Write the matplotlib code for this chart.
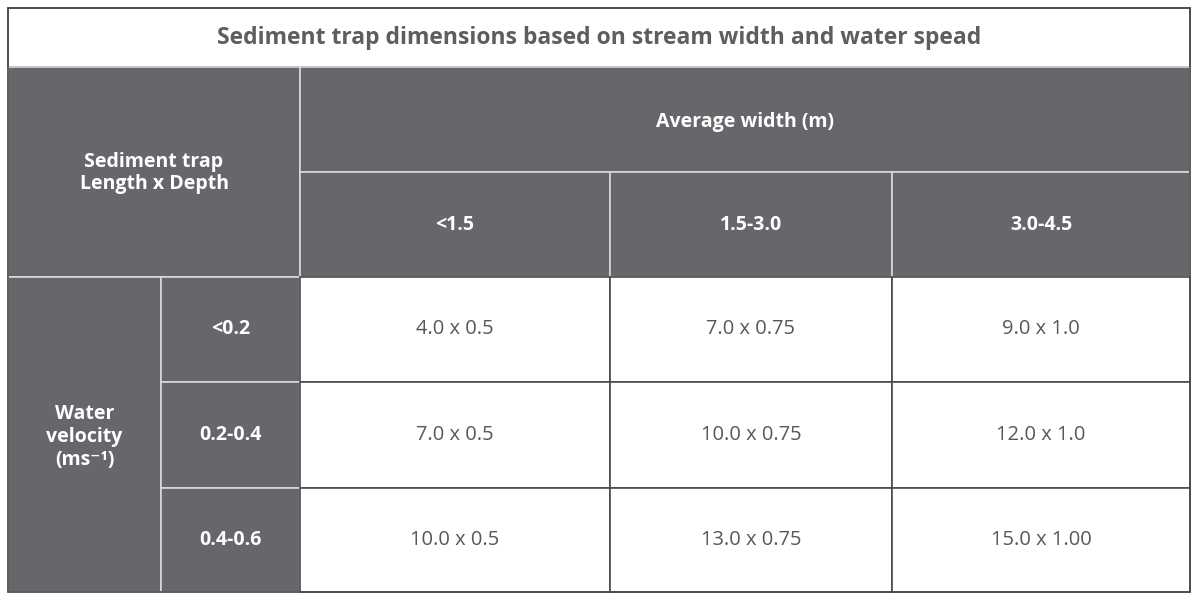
import matplotlib
matplotlib.use("Agg")
import matplotlib.pyplot as plt
from matplotlib.patches import Rectangle

title = "Sediment trap dimensions based on stream width and water spead"
corner_label = "Sediment trap\nLength x Depth"
col_group = "Average width (m)"
width_cats = ["<1.5", "1.5-3.0", "3.0-4.5"]
row_group = "Water\nvelocity\n(ms⁻¹)"
velocity_cats = ["<0.2", "0.2-0.4", "0.4-0.6"]
row1 = ["4.0 x 0.5", "7.0 x 0.75", "9.0 x 1.0"]
row2 = ["7.0 x 0.5", "10.0 x 0.75", "12.0 x 1.0"]
row3 = ["10.0 x 0.5", "13.0 x 0.75", "15.0 x 1.00"]
values = [row1, row2, row3]

W, H = 1200, 601
fig = plt.figure(figsize=(W/100, H/100), dpi=100)
ax = fig.add_axes([0, 0, 1, 1])
ax.set_xlim(0, W); ax.set_ylim(H, 0); ax.axis("off")

FONT = ["Open Sans", "DejaVu Sans"]
DARK = "#67666b"
EDGE_D = "#d9d9d9"
EDGE_L = "#4a4a4e"
TXT = "#58585c"

def cell(x0, y0, x1, y1, fc, ec, lw=1.2):
    ax.add_patch(Rectangle((x0, y0), x1-x0, y1-y0, facecolor=fc, edgecolor=ec, lw=lw))

def txt(x, y, s, color, bold, size=15):
    ax.text(x, y, s, ha="center", va="center", color=color, family=FONT,
            fontweight="bold" if bold else "normal", fontsize=size, linespacing=1.2)

L, R = 8, 1190
cols = [300, 610, 892, 1190]
rows = [277, 382, 488, 592]

cell(L, 8, R, 67, "white", EDGE_L)
txt((L+R)/2, 38, title, "#5e5e62", True, 16.5)
cell(L, 67, 300, 277, DARK, EDGE_D)
txt((L+300)/2, 173, corner_label, "white", True, 14)
cell(300, 67, R, 172, DARK, EDGE_D)
txt((300+R)/2, 122, col_group, "white", True, 14)
for i, c in enumerate(width_cats):
    cell(cols[i], 172, cols[i+1], 277, DARK, EDGE_D)
    txt((cols[i]+cols[i+1])/2, 225, c, "white", True, 14)
cell(L, 277, 161, 592, DARK, EDGE_D)
txt((L+161)/2, 437, row_group, "white", True, 14)
for j, v in enumerate(velocity_cats):
    cell(161, rows[j], 300, rows[j+1], DARK, EDGE_D)
    txt((161+300)/2, (rows[j]+rows[j+1])/2, v, "white", True, 14)
    for i, val in enumerate(values[j]):
        cell(cols[i], rows[j], cols[i+1], rows[j+1], "white", EDGE_L)
        txt((cols[i]+cols[i+1])/2, (rows[j]+rows[j+1])/2, val, TXT, False, 14.5)
ax.add_patch(Rectangle((L, 8), R-L, 592-8, fill=False, edgecolor=EDGE_L, lw=1.2))
fig.savefig("out.png", dpi=100)
